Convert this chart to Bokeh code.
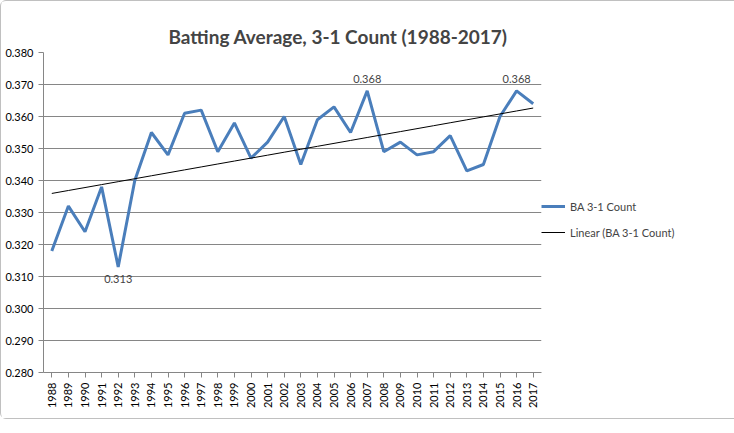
import numpy as np
from bokeh.plotting import figure
from bokeh.models import Legend, LegendItem, FixedTicker, Range1d, Label, CustomJSTickFormatter
from bokeh.embed import file_html
from bokeh.resources import INLINE

years = list(range(1988, 2018))
ba = [0.318, 0.332, 0.324, 0.338, 0.313, 0.340, 0.355, 0.348, 0.361, 0.362,
      0.349, 0.358, 0.347, 0.352, 0.360, 0.345, 0.359, 0.363, 0.355, 0.368,
      0.349, 0.352, 0.348, 0.349, 0.354, 0.343, 0.345, 0.360, 0.368, 0.364]
labeled_years = [1992, 2007, 2016]

x = np.array(years, dtype=float)
y = np.array(ba)
k, b = np.polyfit(x, y, 1)
trend = k * x + b

F = "Lato"
p = figure(frame_width=498, frame_height=320, output_backend="svg", toolbar_location=None,
           x_range=Range1d(1987.5, 2017.5), y_range=Range1d(0.28, 0.38),
           min_border_left=42, min_border_right=14, min_border_top=51, min_border_bottom=46)
p.title.text = "Batting Average, 3-1 Count (1988-2017)"
p.title.text_font = F
p.title.text_font_size = "19px"
p.title.align = "left"
p.title.offset = 125
p.outline_line_color = None
p.xgrid.visible = False
p.ygrid.grid_line_color = "#868686"
p.yaxis.ticker = FixedTicker(ticks=[0.28 + 0.01 * i for i in range(11)])
p.yaxis.formatter = CustomJSTickFormatter(code="return tick.toFixed(3);")
p.xaxis.ticker = FixedTicker(ticks=years)
p.xaxis.major_label_orientation = np.pi / 2
for ax in (p.xaxis, p.yaxis):
    ax.major_label_text_font = F
    ax.major_label_text_font_size = "11px"
    ax.major_label_text_color = "#000000"
    ax.axis_line_color = "#868686"
    ax.major_tick_line_color = "#868686"
    ax.minor_tick_line_color = None
    ax.major_tick_out = 5
    ax.major_tick_in = 0

r1 = p.line(x, y, line_color="#4A7EBB", line_width=3)
r2 = p.line(x, trend, line_color="#000000", line_width=1)

for yr in labeled_years:
    v = ba[years.index(yr)]
    below = yr == 1992
    p.add_layout(Label(x=yr, y=v, text=f"{v:.3f}", text_font=F, text_font_size="11px",
                       text_align="center", text_baseline="top" if below else "bottom",
                       y_offset=-8 if below else 8))

leg = Legend(items=[LegendItem(label="BA 3-1 Count", renderers=[r1]),
                    LegendItem(label="Linear (BA 3-1 Count)", renderers=[r2])],
             label_text_font=F, label_text_font_size="11px", border_line_color=None,
             background_fill_alpha=0, spacing=6, glyph_width=24, margin=10,
             location=(0, 130))
p.add_layout(leg, "right")
p.styles = {"border": "1px solid #c0c0c0", "border-radius": "6px"}

open("out.html", "w").write(file_html(p, INLINE))
